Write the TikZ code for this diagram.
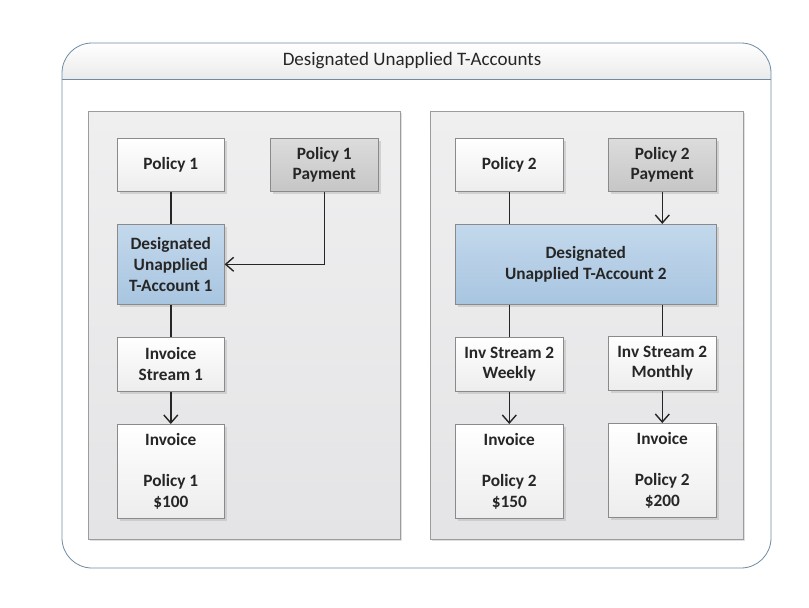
\documentclass[tikz,border=0pt]{standalone}
\usepackage{fontspec}
\setmainfont{Carlito}
\usetikzlibrary{arrows.meta,shadows}
\definecolor{outerline}{HTML}{6E8CA4}
\definecolor{panelline}{HTML}{9C9C9C}
\definecolor{boxline}{HTML}{8A8A8A}
\definecolor{bluetop}{HTML}{C3D8EC}
\definecolor{bluebot}{HTML}{A8C5E0}
\definecolor{graytop}{HTML}{DCDCDC}
\definecolor{graybot}{HTML}{C6C6C6}
\definecolor{whitebot}{HTML}{EDEDED}
\definecolor{paneltop}{HTML}{EFEFF0}
\definecolor{panelbot}{HTML}{E4E4E6}
\definecolor{ink}{HTML}{262626}
\tikzset{
  card/.style={draw=boxline, line width=0.6pt, top color=white, bottom color=whitebot,
    align=center, font=\fontsize{17.3}{20.7}\selectfont\bfseries, text=ink,
    inner sep=0pt, anchor=north west,
    drop shadow={shadow xshift=2.5pt, shadow yshift=-2.5pt, fill=black!25, opacity=0.6}},
  bluecard/.style={card, top color=bluetop, bottom color=bluebot},
  graycard/.style={card, top color=graytop, bottom color=graybot},
  panel/.style={draw=panelline, line width=0.7pt, top color=paneltop, bottom color=panelbot,
    drop shadow={shadow xshift=2pt, shadow yshift=-2pt, fill=black!20, opacity=0.6}},
  conn/.style={line width=1.4pt, draw=ink},
  arr/.style={conn, -{Straight Barb[length=8pt, width=14pt, line width=1.4pt]}}
}
\begin{document}
\begin{tikzpicture}[x=1pt, y=-1pt]
\useasboundingbox (0,0) rectangle (809,608);
\fill[white] (0,0) rectangle (809,608);
% outer container
\begin{scope}
\clip[rounded corners=30pt] (62,43) rectangle (771,568);
\shade[top color=white, bottom color=black!8] (62,43) rectangle (771,79);
\fill[white] (62,79) rectangle (771,568);
\end{scope}
\draw[outerline, line width=0.8pt, rounded corners=30pt] (62,43) rectangle (771,568);
\draw[outerline, line width=0.8pt] (62,79) -- (771,79);
\node[font=\fontsize{19}{22}\selectfont, text=ink] (title) at (412,61) {Designated Unapplied T-Accounts};
% panels
\path[panel] (88,111) rectangle (400,539);
\path[panel] (430,111) rectangle (743,539);
% left nodes
\node[card, minimum width=107pt, minimum height=53pt] (p1) at (117,138) {Policy 1};
\node[graycard, minimum width=108pt, minimum height=53pt] (pay1) at (270,138) {Policy 1\\Payment};
\node[bluecard, minimum width=107pt, minimum height=80pt] (dut1) at (117,224) {Designated\\Unapplied\\T-Account 1};
\node[card, minimum width=107pt, minimum height=54pt] (is1) at (117,337) {Invoice\\Stream 1};
\node[card, minimum width=107pt, minimum height=94pt] (inv1) at (117,424) {Invoice\\ \\Policy 1\\\$100};
% right nodes
\node[card, minimum width=108pt, minimum height=53pt] (p2) at (455,138) {Policy 2};
\node[graycard, minimum width=108pt, minimum height=53pt] (pay2) at (608,138) {Policy 2\\Payment};
\node[bluecard, minimum width=261pt, minimum height=80pt] (dut2) at (455,224) {Designated\\Unapplied T-Account 2};
\node[card, minimum width=108pt, minimum height=54pt] (isw) at (455,337) {Inv Stream 2\\Weekly};
\node[card, minimum width=108pt, minimum height=54pt] (ism) at (608,336) {Inv Stream 2\\Monthly};
\node[card, minimum width=108pt, minimum height=94pt] (inv2) at (455,424) {Invoice\\ \\Policy 2\\\$150};
\node[card, minimum width=108pt, minimum height=94pt] (inv3) at (608,423) {Invoice\\ \\Policy 2\\\$200};
% connectors left
\draw[conn] (p1.south) -- (dut1.north);
\draw[arr] (pay1.south) |- (dut1.east);
\draw[conn] (dut1.south) -- (is1.north);
\draw[arr] (is1.south) -- (inv1.north);
% connectors right
\draw[conn] (p2.south) -- (p2.south |- dut2.north);
\draw[arr] (pay2.south) -- (pay2.south |- dut2.north);
\draw[conn] (isw.north |- dut2.south) -- (isw.north);
\draw[conn] (ism.north |- dut2.south) -- (ism.north);
\draw[arr] (isw.south) -- (inv2.north);
\draw[arr] (ism.south) -- (inv3.north);
\end{tikzpicture}
\end{document}
